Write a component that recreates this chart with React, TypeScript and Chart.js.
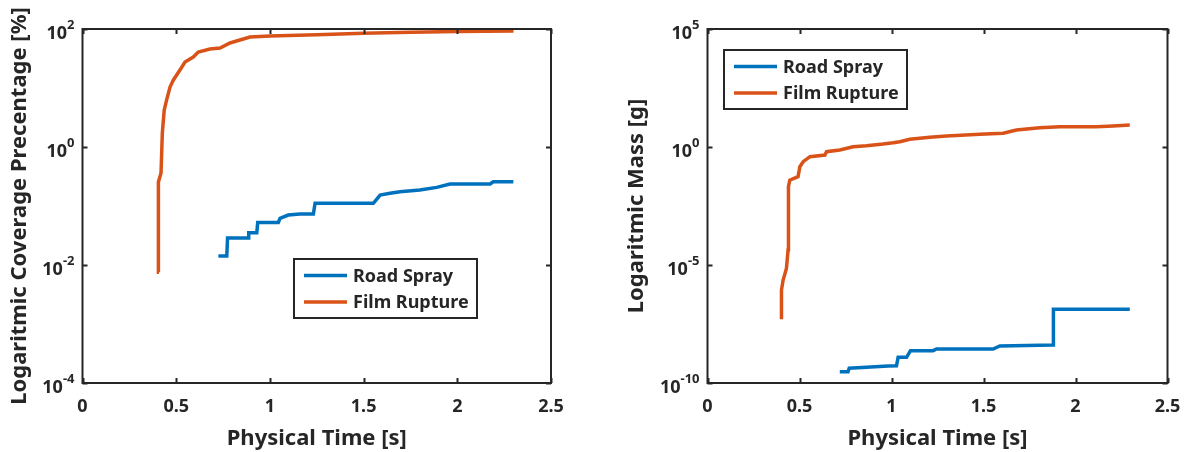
import React, { useEffect, useRef } from "react";
import { Chart, registerables } from "chart.js";

Chart.register(...registerables);

const FONT = '"Noto Sans", "Open Sans", sans-serif';
const AXIS_COLOR = "#262626";
const BLUE = "#0072BD";
const ORANGE = "#D95319";

// Shared x axis ticks (seconds)
const xTicks = [0, 0.5, 1, 1.5, 2, 2.5];

// Left panel: coverage percentage
const coverageExps = [-4, -2, 0, 2];

const roadCovTime = [0.725, 0.77, 0.774, 0.885, 0.887, 0.93, 0.935, 1.045, 1.054, 1.098, 1.16, 1.232, 1.241, 1.552, 1.588, 1.641, 1.694, 1.8, 1.89, 1.961, 2.175, 2.192, 2.299];
const roadCov = [0.0142, 0.0142, 0.0287, 0.0287, 0.0352, 0.0352, 0.0525, 0.0525, 0.062, 0.0703, 0.073, 0.073, 0.111, 0.111, 0.153, 0.164, 0.175, 0.187, 0.207, 0.236, 0.236, 0.258, 0.258];

const filmCovTime = [0.408, 0.405, 0.403, 0.407, 0.419, 0.426, 0.436, 0.449, 0.467, 0.485, 0.52, 0.547, 0.591, 0.618, 0.68, 0.734, 0.787, 0.858, 0.894, 1.0, 1.25, 1.5, 1.75, 2.0, 2.3];
const filmCov = [0.0075, 0.012, 0.035, 0.255, 0.363, 1.73, 4.24, 6.27, 10.4, 13.7, 20.2, 27.5, 33.5, 40.7, 45.8, 47.6, 58, 67.7, 73, 76, 80, 85, 88, 90.8, 92.5];

// Right panel: mass in grams
const massExps = [-10, -5, 0, 5];

const roadMassTime = [0.719, 0.764, 0.77, 0.864, 0.982, 1.027, 1.036, 1.082, 1.103, 1.226, 1.245, 1.552, 1.589, 1.878, 1.88, 2.295];
const roadMass = [3.0e-10, 3.0e-10, 4.2e-10, 4.6e-10, 5.2e-10, 5.4e-10, 1.22e-9, 1.22e-9, 2.35e-9, 2.35e-9, 2.75e-9, 2.75e-9, 3.7e-9, 4.1e-9, 1.32e-7, 1.32e-7];

const filmMassTime = [0.402, 0.402, 0.411, 0.429, 0.438, 0.442, 0.438, 0.447, 0.492, 0.502, 0.52, 0.557, 0.638, 0.647, 0.719, 0.791, 0.864, 0.954, 1.009, 1.045, 1.099, 1.208, 1.299, 1.48, 1.607, 1.679, 1.806, 1.915, 2.114, 2.204, 2.295];
const filmMass = [5.0e-8, 8.7e-7, 2.3e-6, 7.2e-6, 4.4e-5, 5.6e-3, 0.021, 0.039, 0.055, 0.146, 0.238, 0.39, 0.457, 0.63, 0.746, 1.03, 1.135, 1.34, 1.52, 1.68, 2.12, 2.58, 2.93, 3.45, 3.8, 5.25, 6.57, 7.25, 7.25, 7.76, 8.55];

const seriesNames = ["Road Spray", "Film Rupture"];

const toPoints = (xs: number[], ys: number[]) => xs.map((x, i) => ({ x, y: ys[i] }));

type PanelOpts = {
  yExps: number[];
  yTitle: string;
  yTitleX: number;
  legendX: number;
  legendY: number;
};

// MATLAB-style boxed axes: inward ticks on all sides, superscript decade labels, legend box
const boxedAxes = {
  id: "boxedAxes",
  afterDatasetsDraw(chart: any, _args: any, opts: PanelOpts) {
    const { ctx, chartArea: a, scales } = chart;
    const xs = scales.x;
    const ys = scales.y;
    ctx.save();

    // frame
    ctx.strokeStyle = AXIS_COLOR;
    ctx.lineWidth = 2;
    ctx.strokeRect(a.left, a.top, a.right - a.left, a.bottom - a.top);

    // inward tick marks
    const tl = 5;
    ctx.beginPath();
    for (const v of xTicks) {
      const px = Math.round(xs.getPixelForValue(v)) + 0.5;
      ctx.moveTo(px, a.bottom);
      ctx.lineTo(px, a.bottom - tl);
      ctx.moveTo(px, a.top);
      ctx.lineTo(px, a.top + tl);
    }
    for (const e of opts.yExps) {
      const py = Math.round(ys.getPixelForValue(Math.pow(10, e))) + 0.5;
      ctx.moveTo(a.left, py);
      ctx.lineTo(a.left + tl, py);
      ctx.moveTo(a.right, py);
      ctx.lineTo(a.right - tl, py);
    }
    ctx.stroke();

    ctx.fillStyle = AXIS_COLOR;

    // x tick labels
    ctx.font = `700 18px ${FONT}`;
    ctx.textAlign = "center";
    ctx.textBaseline = "alphabetic";
    for (const v of xTicks) {
      ctx.fillText(String(v), xs.getPixelForValue(v), a.bottom + 29);
    }

    // y tick labels: 10 with superscript exponent
    for (const e of opts.yExps) {
      const py = ys.getPixelForValue(Math.pow(10, e));
      const sup = e < 0 ? "-" + String(-e) : String(e);
      ctx.font = `700 13px ${FONT}`;
      const wSup = ctx.measureText(sup).width;
      const right = a.left - 8;
      ctx.textAlign = "right";
      ctx.fillText(sup, right, py);
      ctx.font = `700 18px ${FONT}`;
      ctx.fillText("10", right - wSup, py + 10);
    }

    // axis titles
    ctx.font = `700 22px ${FONT}`;
    ctx.textAlign = "center";
    ctx.fillText("Physical Time [s]", (a.left + a.right) / 2, a.bottom + 62);
    ctx.save();
    ctx.translate(opts.yTitleX, (a.top + a.bottom) / 2);
    ctx.rotate(-Math.PI / 2);
    ctx.textBaseline = "middle";
    ctx.fillText(opts.yTitle, 0, 0);
    ctx.restore();

    // legend
    const lx = a.left + opts.legendX;
    const ly = a.top + opts.legendY;
    const lw = 183;
    const lh = 59;
    ctx.fillStyle = "#ffffff";
    ctx.fillRect(lx, ly, lw, lh);
    ctx.strokeStyle = AXIS_COLOR;
    ctx.lineWidth = 2;
    ctx.strokeRect(lx, ly, lw, lh);
    const colors = [BLUE, ORANGE];
    ctx.font = `700 18px ${FONT}`;
    ctx.textAlign = "left";
    ctx.textBaseline = "middle";
    seriesNames.forEach((name, i) => {
      const yy = ly + 16.5 + i * 26.5;
      ctx.strokeStyle = colors[i];
      ctx.lineWidth = 3.5;
      ctx.beginPath();
      ctx.moveTo(lx + 10, yy);
      ctx.lineTo(lx + 53, yy);
      ctx.stroke();
      ctx.fillStyle = AXIS_COLOR;
      ctx.fillText(name, lx + 59, yy + 1);
    });

    ctx.restore();
  },
};

function Panel(props: {
  left: number;
  width: number;
  padding: { left: number; right: number; top: number; bottom: number };
  road: { x: number; y: number }[];
  film: { x: number; y: number }[];
  yMin: number;
  yMax: number;
  panel: PanelOpts;
}) {
  const ref = useRef<HTMLCanvasElement>(null);
  useEffect(() => {
    const canvas = ref.current!;
    const chart = new Chart(canvas, {
      type: "line",
      data: {
        datasets: [
          { label: seriesNames[0], data: props.road, borderColor: BLUE, borderWidth: 3.5, pointRadius: 0, fill: false, tension: 0 },
          { label: seriesNames[1], data: props.film, borderColor: ORANGE, borderWidth: 3.5, pointRadius: 0, fill: false, tension: 0 },
        ],
      },
      options: {
        animation: false,
        responsive: false,
        devicePixelRatio: 1,
        layout: { padding: props.padding },
        plugins: {
          legend: { display: false },
          tooltip: { enabled: false },
          boxedAxes: props.panel,
        } as any,
        scales: {
          x: { type: "linear", min: 0, max: 2.5, display: false },
          y: { type: "logarithmic", min: props.yMin, max: props.yMax, display: false },
        },
      },
      plugins: [boxedAxes as any],
    });
    return () => chart.destroy();
  }, []);
  return (
    <canvas
      ref={ref}
      width={props.width}
      height={452}
      style={{ position: "absolute", left: props.left, top: 0, width: props.width, height: 452, display: "block" }}
    />
  );
}

export default function App() {
  return (
    <div style={{ position: "absolute", left: 0, top: 0, width: 1189, height: 452, background: "#ffffff" }}>
      <Panel
        left={0}
        width={594}
        padding={{ left: 82.5, right: 43, top: 29, bottom: 69 }}
        road={toPoints(roadCovTime, roadCov)}
        film={toPoints(filmCovTime, filmCov)}
        yMin={1e-4}
        yMax={1e2}
        panel={{ yExps: coverageExps, yTitle: "Logaritmic Coverage Precentage [%]", yTitleX: 20, legendX: 211.5, legendY: 230 }}
      />
      <Panel
        left={594}
        width={595}
        padding={{ left: 113.5, right: 21.5, top: 29, bottom: 69 }}
        road={toPoints(roadMassTime, roadMass)}
        film={toPoints(filmMassTime, filmMass)}
        yMin={1e-10}
        yMax={1e5}
        panel={{ yExps: massExps, yTitle: "Logaritmic Mass [g]", yTitleX: 43, legendX: 16.5, legendY: 21 }}
      />
    </div>
  );
}
